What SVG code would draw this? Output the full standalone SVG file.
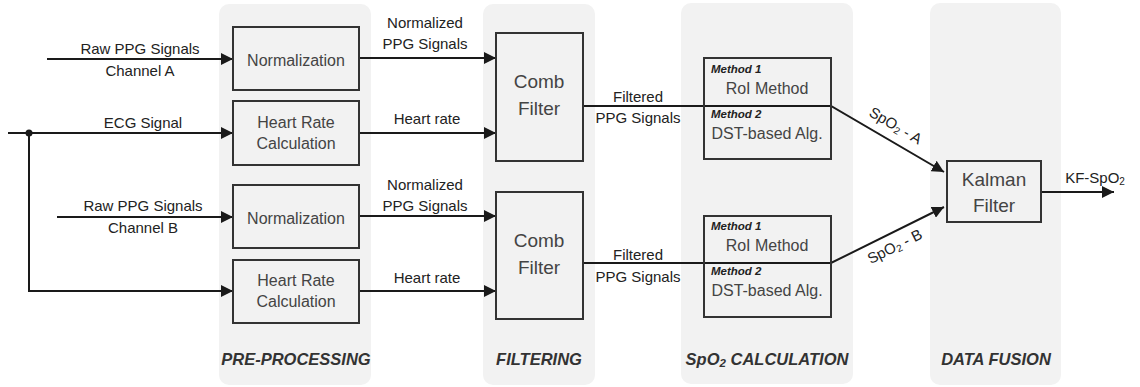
<svg xmlns="http://www.w3.org/2000/svg" width="1140" height="387" viewBox="0 0 1140 387">
  <style>
    .panel { fill: #f2f2f2; stroke: none; }
    .box { fill: #f2f2f2; stroke: #333; stroke-width: 2; }
    .wire { fill: none; stroke: #1a1a1a; stroke-width: 2; }
    .lbl { font-family: "Liberation Sans", Arial, sans-serif; font-size: 15px; fill: #222; text-anchor: middle; }
    .btxt { font-family: "Liberation Sans", Arial, sans-serif; font-size: 16px; fill: #444; text-anchor: middle; }
    .big { font-family: "Liberation Sans", Arial, sans-serif; font-size: 19px; fill: #444; text-anchor: middle; }
    .meth { font-family: "Liberation Sans", Arial, sans-serif; font-size: 11.5px; font-weight: bold; font-style: italic; fill: #222; }
    .title { font-family: "Liberation Sans", Arial, sans-serif; font-size: 16.5px; font-weight: bold; font-style: italic; fill: #333; text-anchor: middle; }
  </style>
  <defs>
    <marker id="arrow" viewBox="0 0 12 12" refX="12" refY="6" markerWidth="12" markerHeight="12" markerUnits="userSpaceOnUse" orient="auto">
      <path d="M0,0 L12,6 L0,12 Z" fill="#1a1a1a"/>
    </marker>
  </defs>

  <!-- stage panels -->
  <g id="panels">
    <rect class="panel" x="219" y="4" width="152" height="381" rx="10"/>
    <rect class="panel" x="483" y="4" width="112" height="381" rx="10"/>
    <rect class="panel" x="681" y="3" width="172" height="381" rx="10"/>
    <rect class="panel" x="930" y="3" width="131" height="382" rx="10"/>
    <text class="title" x="296" y="365">PRE-PROCESSING</text>
    <text class="title" x="539" y="365">FILTERING</text>
    <text class="title" x="767" y="365">SpO<tspan font-size="11.5" dy="2">2</tspan><tspan dy="-2"> CALCULATION</tspan></text>
    <text class="title" x="996" y="365">DATA FUSION</text>
  </g>

  <!-- connectors -->
  <g id="connectors">
    <line class="wire" x1="47" y1="59" x2="233" y2="59" marker-end="url(#arrow)"/>
    <line class="wire" x1="8" y1="133" x2="233" y2="133" marker-end="url(#arrow)"/>
    <polyline class="wire" points="29,133 29,291 233,291" marker-end="url(#arrow)"/>
    <circle cx="29" cy="133" r="3.5" fill="#1a1a1a"/>
    <line class="wire" x1="57" y1="217" x2="233" y2="217" marker-end="url(#arrow)"/>

    <line class="wire" x1="359" y1="58" x2="496" y2="58" marker-end="url(#arrow)"/>
    <line class="wire" x1="359" y1="133" x2="496" y2="133" marker-end="url(#arrow)"/>
    <line class="wire" x1="359" y1="216" x2="496" y2="216" marker-end="url(#arrow)"/>
    <line class="wire" x1="359" y1="291" x2="496" y2="291" marker-end="url(#arrow)"/>

    <polyline class="wire" points="583,106 831,106 944,172" marker-end="url(#arrow)"/>
    <polyline class="wire" points="583,263 831,263 944,207" marker-end="url(#arrow)"/>

    <line class="wire" x1="1041" y1="192" x2="1114" y2="192" marker-end="url(#arrow)"/>

    <!-- connector labels -->
    <text class="lbl" x="140" y="54">Raw PPG Signals</text>
    <text class="lbl" x="140" y="76">Channel A</text>
    <text class="lbl" x="143" y="128">ECG Signal</text>
    <text class="lbl" x="143" y="211">Raw PPG Signals</text>
    <text class="lbl" x="143" y="233">Channel B</text>

    <text class="lbl" x="425" y="28">Normalized</text>
    <text class="lbl" x="425" y="49">PPG Signals</text>
    <text class="lbl" x="427" y="124">Heart rate</text>
    <text class="lbl" x="425" y="190">Normalized</text>
    <text class="lbl" x="425" y="211">PPG Signals</text>
    <text class="lbl" x="427" y="283">Heart rate</text>

    <text class="lbl" x="638" y="102">Filtered</text>
    <text class="lbl" x="638" y="123">PPG Signals</text>
    <text class="lbl" x="638" y="260">Filtered</text>
    <text class="lbl" x="638" y="282">PPG Signals</text>

    <text class="lbl" transform="translate(893,130) rotate(30.5)">SpO<tspan font-size="10" dy="2">2</tspan><tspan dy="-2"> - A</tspan></text>
    <text class="lbl" transform="translate(897,251) rotate(-26.6)">SpO<tspan font-size="10" dy="2">2</tspan><tspan dy="-2"> - B</tspan></text>
    <text class="lbl" x="1095" y="183">KF-SpO<tspan font-size="10" dy="2">2</tspan></text>
  </g>

  <g id="norm-a">
    <rect class="box" x="233" y="27" width="126" height="63"/>
    <text class="btxt" x="296" y="66">Normalization</text>
  </g>
  <g id="hr-a">
    <rect class="box" x="233" y="101" width="126" height="64"/>
    <text class="btxt" x="296" y="128">Heart Rate</text>
    <text class="btxt" x="296" y="149">Calculation</text>
  </g>
  <g id="norm-b">
    <rect class="box" x="233" y="185" width="126" height="63"/>
    <text class="btxt" x="296" y="224">Normalization</text>
  </g>
  <g id="hr-b">
    <rect class="box" x="233" y="260" width="126" height="63"/>
    <text class="btxt" x="296" y="286">Heart Rate</text>
    <text class="btxt" x="296" y="307">Calculation</text>
  </g>

  <g id="comb-a">
    <rect class="box" x="496" y="33" width="87" height="128"/>
    <text class="big" x="539" y="88">Comb</text>
    <text class="big" x="539" y="115">Filter</text>
  </g>
  <g id="comb-b">
    <rect class="box" x="496" y="192" width="87" height="127"/>
    <text class="big" x="539" y="247">Comb</text>
    <text class="big" x="539" y="274">Filter</text>
  </g>

  <g id="spo2-a">
    <rect class="box" x="704" y="58" width="127" height="101" style="fill:none"/>
    <text class="meth" x="711" y="73">Method 1</text>
    <text class="btxt" x="767" y="94">RoI Method</text>
    <text class="meth" x="711" y="118">Method 2</text>
    <text class="btxt" x="767" y="139">DST-based Alg.</text>
  </g>
  <g id="spo2-b">
    <rect class="box" x="704" y="216" width="127" height="101" style="fill:none"/>
    <text class="meth" x="711" y="230">Method 1</text>
    <text class="btxt" x="767" y="251">RoI Method</text>
    <text class="meth" x="711" y="275">Method 2</text>
    <text class="btxt" x="767" y="296">DST-based Alg.</text>
  </g>

  <g id="kalman">
    <rect class="box" x="947" y="161" width="94" height="61"/>
    <text class="big" x="994" y="186">Kalman</text>
    <text class="big" x="994" y="212">Filter</text>
  </g>
</svg>
